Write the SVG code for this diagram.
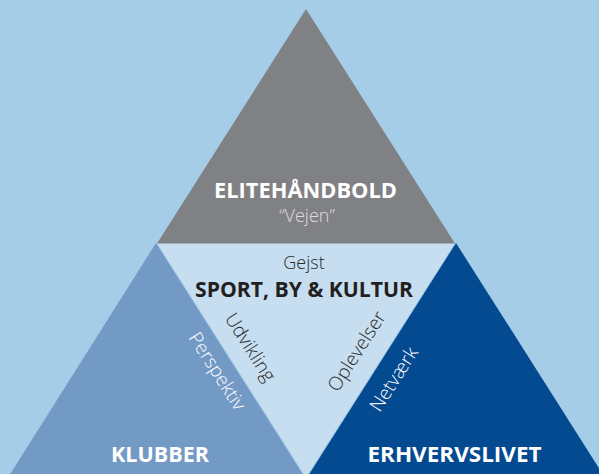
<svg xmlns="http://www.w3.org/2000/svg" width="599" height="474" viewBox="0 0 599 474">
  <style>
    .bold { font-family: "Open Sans", "Liberation Sans", sans-serif; font-weight: 700; font-size: 21.5px; text-anchor: middle; }
    .light { font-family: "Open Sans", "Liberation Sans", sans-serif; font-weight: 300; font-size: 18px; text-anchor: middle; }
    .rot { font-size: 19px; }
    .white { fill: #ffffff; }
    .dark { fill: #2b2a2a; }
  </style>
  <rect id="background" x="0" y="0" width="599" height="474" fill="#a5cde8"/>
  <g id="center">
    <polygon points="157,243 455,243 306,477" fill="#c6deef"/>
    <text class="light dark" x="304" y="269">Gejst</text>
    <text class="bold" x="304" y="297" fill="#231f20" textLength="218" lengthAdjust="spacingAndGlyphs">SPORT, BY &amp; KULTUR</text>
    <text class="light rot dark" transform="translate(249,348) rotate(57.5)" x="0" y="5">Udvikling</text>
    <text class="light rot dark" transform="translate(358,352) rotate(-57.5)" x="0" y="5">Oplevelser</text>
  </g>
  <g id="klubber">
    <polygon points="156,243 304,476 9,476" fill="#7399c5"/>
    <text class="bold white" x="160" y="462" textLength="98" lengthAdjust="spacingAndGlyphs">KLUBBER</text>
    <text class="light rot white" transform="translate(216,372) rotate(57.5)" x="0" y="5">Perspektiv</text>
  </g>
  <g id="erhvervslivet">
    <polygon points="456,243 604,476 308,476" fill="#044a91"/>
    <text class="bold white" x="454.5" y="462" textLength="174" lengthAdjust="spacingAndGlyphs">ERHVERVSLIVET</text>
    <text class="light rot white" transform="translate(395,380) rotate(-57.5)" x="0" y="5">Netværk</text>
  </g>
  <g id="elitehaandbold">
    <polygon points="306,9 455,243.5 157,243.5" fill="#808184"/>
    <text class="bold white" x="305.5" y="198" textLength="183" lengthAdjust="spacingAndGlyphs">ELITEHÅNDBOLD</text>
    <text class="light" x="307" y="222" fill="#dedede">“Vejen”</text>
  </g>
  <g id="connectors"/>
</svg>
